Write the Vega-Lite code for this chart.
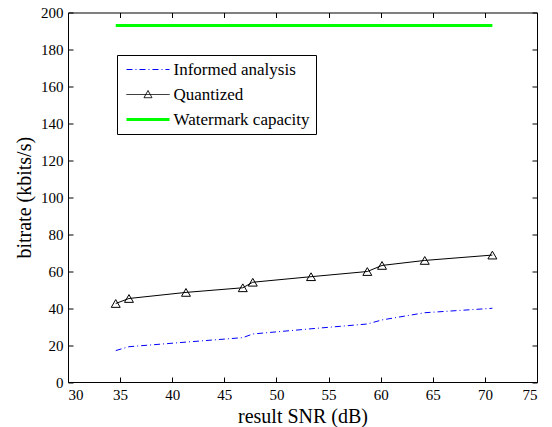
{
  "$schema": "https://vega.github.io/schema/vega-lite/v6.json",
  "width": 469,
  "height": 369.5,
  "autosize": {"type": "none"},
  "padding": {"left": 68, "top": 12.5, "right": 15, "bottom": 45},
  "background": "white",
  "config": {
    "font": "Liberation Serif",
    "view": {"stroke": "black", "strokeWidth": 1},
    "axis": {
      "grid": false,
      "domainColor": "black",
      "domainWidth": 1,
      "tickColor": "black",
      "tickWidth": 1,
      "tickSize": -5,
      "labelColor": "black",
      "titleColor": "black",
      "labelFont": "Liberation Serif",
      "titleFont": "Liberation Serif",
      "labelFontSize": 15,
      "titleFontSize": 20,
      "titleFontWeight": "normal",
      "labelPadding": 10
    },
    "legend": {
      "labelFont": "Liberation Serif",
      "labelFontSize": 17,
      "labelColor": "black"
    }
  },
  "data": {
    "values": [
      {"series": "Informed analysis", "snr": 34.58, "bitrate": 17.0},
      {"series": "Informed analysis", "snr": 35.85, "bitrate": 19.1},
      {"series": "Informed analysis", "snr": 41.32, "bitrate": 21.6},
      {"series": "Informed analysis", "snr": 46.77, "bitrate": 24.0},
      {"series": "Informed analysis", "snr": 47.73, "bitrate": 26.0},
      {"series": "Informed analysis", "snr": 53.32, "bitrate": 28.8},
      {"series": "Informed analysis", "snr": 58.72, "bitrate": 31.4},
      {"series": "Informed analysis", "snr": 60.13, "bitrate": 33.6},
      {"series": "Informed analysis", "snr": 64.23, "bitrate": 37.5},
      {"series": "Informed analysis", "snr": 70.72, "bitrate": 39.9},
      {"series": "Quantized", "snr": 34.58, "bitrate": 42.5},
      {"series": "Quantized", "snr": 35.85, "bitrate": 45.2},
      {"series": "Quantized", "snr": 41.32, "bitrate": 48.5},
      {"series": "Quantized", "snr": 46.77, "bitrate": 51.0},
      {"series": "Quantized", "snr": 47.73, "bitrate": 54.0},
      {"series": "Quantized", "snr": 53.32, "bitrate": 57.0},
      {"series": "Quantized", "snr": 58.72, "bitrate": 59.8},
      {"series": "Quantized", "snr": 60.13, "bitrate": 63.1},
      {"series": "Quantized", "snr": 64.23, "bitrate": 65.8},
      {"series": "Quantized", "snr": 70.72, "bitrate": 68.7},
      {"series": "Watermark capacity", "snr": 34.58, "bitrate": 193},
      {"series": "Watermark capacity", "snr": 70.72, "bitrate": 193}
    ]
  },
  "resolve": {"axis": {"x": "independent", "y": "independent"}},
  "layer": [
    {
      "transform": [{"filter": "datum.series === 'Informed analysis'"}],
      "mark": {"type": "line", "strokeWidth": 1, "strokeDash": [6, 3, 1, 3]},
      "encoding": {
        "x": {"field": "snr", "type": "quantitative",
              "scale": {"domain": [30, 75], "nice": false, "zero": false},
              "axis": {"title": "result SNR (dB)", "values": [30, 35, 40, 45, 50, 55, 60, 65, 70, 75], "titlePadding": 4}},
        "y": {"field": "bitrate", "type": "quantitative",
              "scale": {"domain": [0, 200], "nice": false},
              "axis": {"title": "bitrate (kbits/s)", "values": [0, 20, 40, 60, 80, 100, 120, 140, 160, 180, 200], "titlePadding": 6}},
        "color": {"field": "series", "type": "nominal",
                  "scale": {"domain": ["Informed analysis", "Quantized", "Watermark capacity"], "range": ["#0000ff", "#000000", "#00ff00"]},
                  "legend": {
                    "title": null,
                    "orient": "none",
                    "legendX": 49,
                    "legendY": 42.5,
                    "strokeColor": "black",
                    "fillColor": "white",
                    "padding": 6,
                    "rowPadding": 7,
                    "symbolSize": 256,
                    "symbolOffset": 16.5,
                    "labelOffset": 17,
                    "symbolStrokeWidth": 1,
                    "cornerRadius": 0,
                    "encode": {
                      "symbols": {
                        "update": {
                          "shape": {"signal": "datum.value === 'Quantized' ? 'M-2.69,0H2.69M-0.5,0.4L0,-0.5L0.5,0.4Z' : 'M-2.69,0H2.69'"},
                          "strokeDash": {"signal": "datum.value === 'Informed analysis' ? [6,3,1,3] : [1,0]"},
                          "strokeWidth": {"signal": "datum.value === 'Watermark capacity' ? 3 : 1"},
                          "fill": {"value": "transparent"}
                        }
                      }
                    }
                  }}
      }
    },
    {
      "transform": [{"filter": "datum.series === 'Quantized'"}],
      "mark": {"type": "line", "strokeWidth": 1},
      "encoding": {
        "x": {"field": "snr", "type": "quantitative", "axis": null},
        "y": {"field": "bitrate", "type": "quantitative", "axis": null},
        "color": {"field": "series", "type": "nominal"}
      }
    },
    {
      "transform": [{"filter": "datum.series === 'Watermark capacity'"}],
      "mark": {"type": "line", "strokeWidth": 3},
      "encoding": {
        "x": {"field": "snr", "type": "quantitative",
              "axis": {"orient": "top", "labels": false, "title": null, "domain": false, "values": [30, 35, 40, 45, 50, 55, 60, 65, 70, 75]}},
        "y": {"field": "bitrate", "type": "quantitative",
              "axis": {"orient": "right", "labels": false, "title": null, "domain": false, "values": [0, 20, 40, 60, 80, 100, 120, 140, 160, 180, 200]}},
        "color": {"field": "series", "type": "nominal"}
      }
    },
    {
      "transform": [{"filter": "datum.series === 'Quantized'"}],
      "mark": {"type": "point", "shape": "triangle-up", "filled": false, "color": "black", "size": 80, "strokeWidth": 1, "opacity": 1},
      "encoding": {
        "x": {"field": "snr", "type": "quantitative", "axis": null},
        "y": {"field": "bitrate", "type": "quantitative", "axis": null}
      }
    }
  ]
}
